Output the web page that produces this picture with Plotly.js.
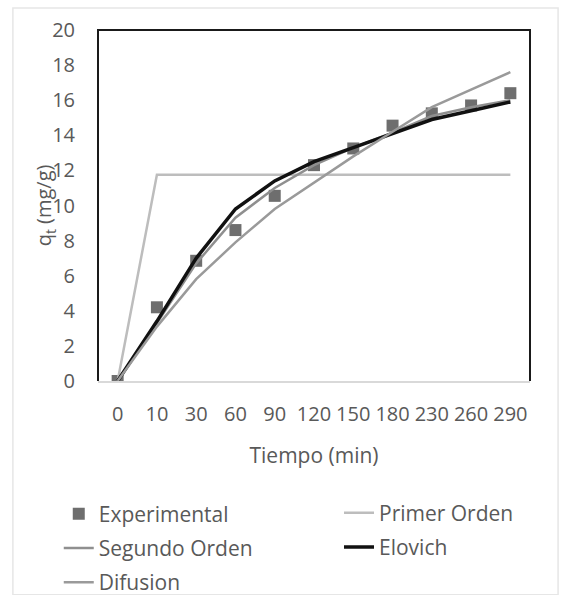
<!DOCTYPE html>
<html>
<head>
<meta charset="utf-8">
<script src="https://cdn.plot.ly/plotly-3.0.1.min.js"></script>
<style>html,body{margin:0;padding:0;background:#fff;}#chart{width:565px;height:595px;}</style>
</head>
<body>
<div id="chart"></div>
<script>
var categories = ['0','10','30','60','90','120','150','180','230','260','290'];
var experimental = [0, 4.2, 6.85, 8.6, 10.55, 12.3, 13.25, 14.55, 15.25, 15.7, 16.4];
var primerOrden = [0, 11.75, 11.75, 11.75, 11.75, 11.75, 11.75, 11.75, 11.75, 11.75, 11.75];
var segundoOrden = [0, 3.3, 6.7, 9.3, 11.0, 12.3, 13.3, 14.15, 15.1, 15.6, 16.0];
var elovich = [0, 3.4, 7.0, 9.8, 11.4, 12.5, 13.3, 14.1, 14.9, 15.4, 15.9];
var difusion = [0, 3.1, 5.8, 7.9, 9.8, 11.3, 12.8, 14.2, 15.6, 16.6, 17.6];
var yTicks = [0,2,4,6,8,10,12,14,16,18,20];
var yTitle = 'q<sub>t</sub> (mg/g)';
var xTitle = 'Tiempo (min)';

var FONT = 'Open Sans, sans-serif';
var TXT = '#595959';

var traces = [
  {x: categories, y: experimental, name: 'Experimental', type: 'scatter', mode: 'markers',
   marker: {symbol: 'square', size: 12, color: '#6e6e6e'}, legend: 'legend', legendgroup: 'a'},
  {x: categories, y: primerOrden, name: 'Primer Orden', type: 'scatter', mode: 'lines',
   line: {color: '#bdbdbd', width: 2.5}, legend: 'legend2', legendgroup: 'b'},
  {x: categories, y: segundoOrden, name: 'Segundo Orden', type: 'scatter', mode: 'lines',
   line: {color: '#8f8f8f', width: 2.5}, legend: 'legend', legendgroup: 'c'},
  {x: categories, y: elovich, name: 'Elovich', type: 'scatter', mode: 'lines',
   line: {color: '#111111', width: 3.5}, legend: 'legend2', legendgroup: 'd'},
  {x: categories, y: difusion, name: 'Difusion', type: 'scatter', mode: 'lines',
   line: {color: '#9a9a9a', width: 2.5}, legend: 'legend', legendgroup: 'e'}
];

var legBase = {orientation: 'v', xanchor: 'left', yanchor: 'middle', xref: 'container', yref: 'container',
  font: {family: FONT, size: 21, color: TXT}, traceorder: 'grouped', tracegroupgap: 4,
  bgcolor: 'rgba(0,0,0,0)'};

var layout = {
  width: 565, height: 595,
  margin: {l: 98, r: 35, t: 30, b: 214, autoexpand: false},
  paper_bgcolor: '#ffffff', plot_bgcolor: '#ffffff',
  font: {family: FONT, color: TXT},
  showlegend: true,
  legend: Object.assign({}, legBase, {x: 0.104, y: 0.079}),
  legend2: Object.assign({}, legBase, {x: 0.6, y: 0.109}),
  xaxis: {
    type: 'category', range: [-0.5, 10.5], tickangle: 0, automargin: false,
    showgrid: false, zeroline: false, showline: true, linecolor: '#d9d9d9', linewidth: 2,
    ticks: '', ticklabelstandoff: 14,
    tickfont: {family: FONT, size: 20, color: TXT},
    title: {text: xTitle, font: {family: FONT, size: 21, color: TXT}, standoff: 22}
  },
  yaxis: {
    range: [0, 20], tickvals: yTicks, showgrid: false, zeroline: false, showline: false,
    ticks: '', ticklabelstandoff: 22, automargin: false,
    tickfont: {family: FONT, size: 20, color: TXT}
  },
  annotations: [
    {text: yTitle, xref: 'paper', yref: 'paper', x: -0.123, y: 0.5, xanchor: 'center', yanchor: 'middle',
     textangle: -90, showarrow: false, font: {family: FONT, size: 20, color: TXT}}
  ],
  shapes: [
    {type: 'path', xref: 'paper', yref: 'paper', path: 'M 0 0 L 0 1 L 1 1 L 1 0',
     line: {color: '#1a1a1a', width: 2}},
    {type: 'rect', xref: 'paper', yref: 'paper', x0: -0.197, x1: 1.065, y0: -0.609, y1: 1.063,
     line: {color: '#e6e6e6', width: 1.5}}
  ]
};

Plotly.newPlot('chart', traces, layout, {displayModeBar: false, staticPlot: true});
</script>
</body>
</html>
